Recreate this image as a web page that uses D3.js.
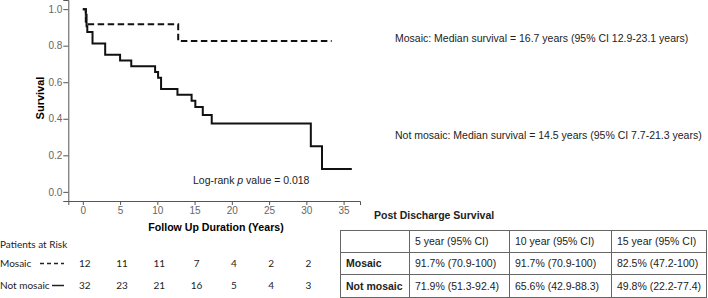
<!DOCTYPE html>
<html lang="en">
<head>
<meta charset="utf-8">
<title>Post discharge survival</title>
<script src="https://d3js.org/d3.v7.min.js"></script>
<style>
  body { margin: 0; background: #fff; }
  svg text { font-family: "Liberation Sans", Arial, sans-serif; }
</style>
</head>
<body>
<div id="chart"></div>
<script>
// Kaplan-Meier steps
let mosaicTimes = [0, 0.4, 12.8, 33.4];
let mosaicSurv  = [1, 0.917, 0.825, 0.825];
let notMosaicTimes = [0, 0.4, 0.5, 0.6, 1.3, 3.0, 5.0, 6.5, 9.7, 10.1, 10.5, 12.7, 14.6, 15.1, 16.1, 17.3, 30.6, 32.1, 36.1];
let notMosaicSurv  = [1, 0.969, 0.906, 0.875, 0.8125, 0.75, 0.719, 0.6875, 0.656, 0.625, 0.5625, 0.531, 0.498, 0.465, 0.42, 0.374, 0.25, 0.125, 0.125];

let xTicks = [0, 5, 10, 15, 20, 25, 30, 35];
let yTicks = [0, 0.2, 0.4, 0.6, 0.8, 1.0];

let riskTimes = [0, 5, 10, 15, 20, 25, 30];
let riskMosaic = [12, 11, 11, 7, 4, 2, 2];
let riskNotMosaic = [32, 23, 21, 16, 5, 4, 3];

let medianMosaic = "Mosaic: Median survival = 16.7 years (95% CI 12.9-23.1 years)";
let medianNotMosaic = "Not mosaic: Median survival = 14.5 years (95% CI 7.7-21.3 years)";

let tableHeader = ["", "5 year (95% CI)", "10 year (95% CI)", "15 year (95% CI)"];
let tableMosaic = ["Mosaic", "91.7% (70.9-100)", "91.7% (70.9-100)", "82.5% (47.2-100)"];
let tableNotMosaic = ["Not mosaic", "71.9% (51.3-92.4)", "65.6% (42.9-88.3)", "49.8% (22.2-77.4)"];

let width = 708, height = 298;
let svg = d3.select("#chart").append("svg")
  .attr("width", width).attr("height", height);

// plot area
let x = d3.scaleLinear().domain([-1.95, 37.2]).range([68.3, 360]);
let y = d3.scaleLinear().domain([-0.05, 1.05]).range([201, 0]);

let axisColor = "#555";

// y axis
let yAxis = svg.append("g")
  .attr("transform", "translate(68.3,0)")
  .call(d3.axisLeft(y).tickValues(yTicks).tickFormat(d3.format(".1f")).tickSizeOuter(0).tickSize(5).tickPadding(1));
// x axis
let xAxis = svg.append("g")
  .attr("transform", "translate(0,201)")
  .call(d3.axisBottom(x).tickValues(xTicks).tickSizeOuter(0).tickSize(4).tickPadding(2));

[xAxis, yAxis].forEach(g => {
  g.select(".domain").attr("stroke", axisColor);
  g.selectAll(".tick line").attr("stroke", axisColor);
  g.selectAll(".tick text")
    .attr("fill", "#666")
    .style("font-size", "10px")
    .style("font-family", "'Liberation Sans', Arial, sans-serif");
});

svg.append("text")
  .attr("transform", "translate(44,98) rotate(-90)")
  .attr("text-anchor", "middle")
  .style("font-size", "11px").style("font-weight", "bold")
  .text("Survival");

svg.append("text")
  .attr("x", 216).attr("y", 231)
  .attr("text-anchor", "middle")
  .style("font-size", "10.6px").style("font-weight", "bold")
  .text("Follow Up Duration (Years)");

// curves
let step = d3.line()
  .x(d => x(d[0]))
  .y(d => y(d[1]))
  .curve(d3.curveStepAfter);

svg.append("path")
  .datum(d3.zip(notMosaicTimes, notMosaicSurv))
  .attr("fill", "none").attr("stroke", "#111").attr("stroke-width", 2)
  .attr("d", step);

svg.append("path")
  .datum(d3.zip(mosaicTimes, mosaicSurv))
  .attr("fill", "none").attr("stroke", "#111").attr("stroke-width", 2)
  .attr("stroke-dasharray", "6.5,3.5")
  .attr("d", step);

svg.append("text")
  .attr("x", 193).attr("y", 184)
  .style("font-size", "10.5px").attr("fill", "#222")
  .html("Log-rank <tspan font-style='italic'>p</tspan> value = 0.018");

// median survival annotations
svg.append("text").attr("x", 395).attr("y", 42)
  .style("font-size", "10.5px").attr("fill", "#222").text(medianMosaic);
svg.append("text").attr("x", 395).attr("y", 139)
  .style("font-size", "10.5px").attr("fill", "#222").text(medianNotMosaic);

// patients at risk
let riskFont = "Lato, 'Open Sans', sans-serif";
svg.append("text").attr("x", 0).attr("y", 248)
  .style("font-family", riskFont).style("font-size", "10px").attr("fill", "#222")
  .text("Patients at Risk");
svg.append("text").attr("x", 0).attr("y", 267)
  .style("font-family", riskFont).style("font-size", "10px").attr("fill", "#222")
  .text("Mosaic");
svg.append("text").attr("x", 0).attr("y", 289)
  .style("font-family", riskFont).style("font-size", "10px").attr("fill", "#222")
  .text("Not mosaic");
svg.append("line").attr("x1", 40).attr("x2", 64).attr("y1", 263.5).attr("y2", 263.5)
  .attr("stroke", "#222").attr("stroke-width", 1.3).attr("stroke-dasharray", "4,3");
svg.append("line").attr("x1", 52).attr("x2", 64).attr("y1", 285.5).attr("y2", 285.5)
  .attr("stroke", "#222").attr("stroke-width", 1.5);

[[riskMosaic, 267], [riskNotMosaic, 289]].forEach(([vals, yy]) => {
  svg.append("g").selectAll("text")
    .data(d3.zip(riskTimes, vals))
    .join("text")
    .attr("x", d => x(d[0]) + 2)
    .attr("y", yy)
    .attr("text-anchor", "middle")
    .style("font-family", riskFont).style("font-size", "10px").attr("fill", "#222")
    .text(d => d[1]);
});

// survival table
svg.append("text").attr("x", 374).attr("y", 219)
  .style("font-size", "10.5px").style("font-weight", "bold").attr("fill", "#222")
  .text("Post Discharge Survival");

let colEdges = [340, 409, 509, 611, 706];
let rowEdges = [230, 252, 274, 297];
let tableRows = [tableHeader, tableMosaic, tableNotMosaic];
let tbl = svg.append("g");
tbl.selectAll("line.h").data(rowEdges).join("line")
  .attr("x1", colEdges[0]).attr("x2", colEdges[colEdges.length - 1])
  .attr("y1", d => d + 0.5).attr("y2", d => d + 0.5)
  .attr("stroke", "#666").attr("stroke-width", 1);
tbl.selectAll("line.v").data(colEdges).join("line")
  .attr("x1", d => d + 0.5).attr("x2", d => d + 0.5)
  .attr("y1", rowEdges[0]).attr("y2", rowEdges[rowEdges.length - 1] + 1)
  .attr("stroke", "#666").attr("stroke-width", 1);

tableRows.forEach((row, r) => {
  row.forEach((cell, c) => {
    tbl.append("text")
      .attr("x", colEdges[c] + 6)
      .attr("y", (rowEdges[r] + rowEdges[r + 1]) / 2 + 4)
      .style("font-size", "10.5px")
      .style("font-weight", c === 0 ? "bold" : "normal")
      .attr("fill", "#222")
      .text(cell);
  });
});
</script>
</body>
</html>
